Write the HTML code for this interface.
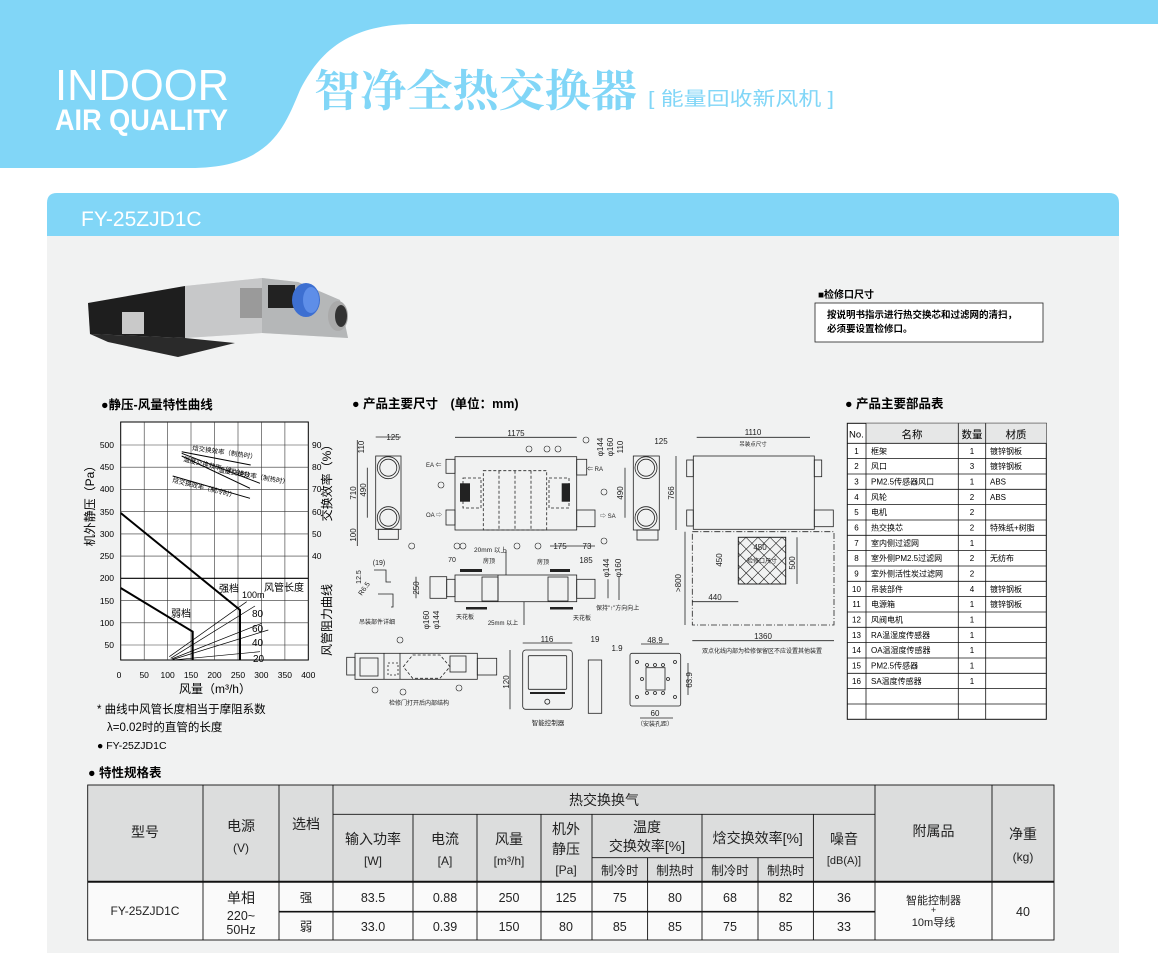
<!DOCTYPE html>
<html><head><meta charset="utf-8"><style>
html,body{margin:0;padding:0;background:#fff;}
svg{display:block;font-family:"Liberation Sans","Noto Sans CJK SC",sans-serif;}
</style></head><body>
<svg width="1158" height="953" viewBox="0 0 1158 953" xmlns="http://www.w3.org/2000/svg">
<rect width="1158" height="953" fill="#fff"/>
<!-- header -->
<path d="M0,0 H1158 V24 H415 C345,24 318,55 300,90 C285,125 272,168 190,168 H0 Z" fill="#81d6f7"/>
<text x="55" y="100" font-size="44" fill="#fff" textLength="174" lengthAdjust="spacingAndGlyphs">INDOOR</text>
<text x="55" y="130" font-size="30" font-weight="bold" fill="#fff" textLength="173" lengthAdjust="spacingAndGlyphs">AIR QUALITY</text>
<text x="314" y="106" font-size="44" font-weight="bold" fill="#81d6f7" font-family="'Noto Serif CJK SC',serif" textLength="323" lengthAdjust="spacingAndGlyphs">智净全热交换器</text>
<text x="648" y="105" font-size="19" fill="#81d6f7" textLength="186" lengthAdjust="spacingAndGlyphs">[ 能量回收新风机 ]</text>
<!-- panel -->
<path d="M47,236 V203 Q47,193 57,193 H1109 Q1119,193 1119,203 V236 Z" fill="#81d6f7"/>
<rect x="47" y="236" width="1072" height="717" fill="#f1f2f2"/>
<text x="81" y="226" font-size="21" fill="#fff">FY-25ZJD1C</text>

<!-- product photo -->
<polygon points="88,303 185,286 262,278 298,282 340,300 348,338 262,333 185,338 178,357 108,342 90,334" fill="#d8d9da"/>
<polygon points="88,303 185,286 185,338 90,334" fill="#1e1e1e"/>
<polygon points="90,334 185,338 235,343 178,357 108,342" fill="#2a2a2a"/>
<polygon points="185,286 262,278 262,333 185,338" fill="#c7c8c9"/>
<polygon points="262,278 298,282 340,300 348,338 262,333" fill="#b5b7b8"/>
<rect x="122" y="312" width="22" height="22" fill="#c9c9c9"/>
<rect x="240" y="288" width="22" height="30" fill="#9a9a9a"/>
<rect x="268" y="285" width="27" height="23" fill="#222"/>
<ellipse cx="306" cy="300" rx="14" ry="17" fill="#3d6fd1"/>
<ellipse cx="311" cy="300" rx="8" ry="13" fill="#5e8ee8"/>
<ellipse cx="338" cy="316" rx="10" ry="15" fill="#aaa"/>
<ellipse cx="341" cy="316" rx="6" ry="11" fill="#333"/>

<!-- inspection note -->
<text x="818" y="298" font-size="10" font-weight="bold">■检修口尺寸</text>
<rect x="815" y="303" width="228" height="39" fill="#fff" stroke="#222" stroke-width="0.8"/>
<text x="827" y="318" font-size="9.5" font-weight="bold">按说明书指示进行热交换芯和过滤网的清扫，</text>
<text x="827" y="332" font-size="9.5" font-weight="bold">必须要设置检修口。</text>

<!-- section heads -->
<text x="101" y="409" font-size="12.5" font-weight="bold">●静压-风量特性曲线</text>
<text x="352" y="408" font-size="12.5" font-weight="bold">● 产品主要尺寸　(单位：mm)</text>
<text x="845" y="408" font-size="12.5" font-weight="bold">● 产品主要部品表</text>
<text x="88" y="777" font-size="12.5" font-weight="bold">● 特性规格表</text>

<!-- chart -->
<g>
<rect x="120.7" y="422" width="187.6" height="238" fill="#fff" stroke="#000" stroke-width="1"/>
<g stroke="#333" stroke-width="0.6">
<line x1="144.2" y1="422" x2="144.2" y2="660"/><line x1="167.6" y1="422" x2="167.6" y2="660"/>
<line x1="191" y1="422" x2="191" y2="660"/><line x1="214.5" y1="422" x2="214.5" y2="660"/>
<line x1="238" y1="422" x2="238" y2="660"/><line x1="261.4" y1="422" x2="261.4" y2="660"/>
<line x1="284.9" y1="422" x2="284.9" y2="660"/>
<line x1="120.7" y1="445" x2="308.3" y2="445"/><line x1="120.7" y1="467.2" x2="308.3" y2="467.2"/>
<line x1="120.7" y1="489.4" x2="308.3" y2="489.4"/><line x1="120.7" y1="511.7" x2="308.3" y2="511.7"/>
<line x1="120.7" y1="533.9" x2="308.3" y2="533.9"/><line x1="120.7" y1="556.1" x2="308.3" y2="556.1"/>
<line x1="120.7" y1="600.6" x2="308.3" y2="600.6"/><line x1="120.7" y1="622.8" x2="308.3" y2="622.8"/>
<line x1="120.7" y1="645" x2="308.3" y2="645"/>
</g>
<line x1="120.7" y1="578.3" x2="308.3" y2="578.3" stroke="#000" stroke-width="1.2"/>
<polyline points="120.7,513 240,610 240,660" fill="none" stroke="#000" stroke-width="2"/>
<polyline points="120.7,588 192.7,631.7 192.7,660" fill="none" stroke="#000" stroke-width="2"/>
<g stroke="#000" stroke-width="1">
<line x1="181.7" y1="451.7" x2="250.7" y2="465"/>
<line x1="181.7" y1="453.3" x2="260" y2="483.3"/>
<line x1="181.7" y1="456" x2="250" y2="488.3"/>
<line x1="172.7" y1="476" x2="250" y2="498.3"/>
</g>
<g stroke="#000" stroke-width="0.7">
<line x1="169.3" y1="656.7" x2="246.7" y2="601.7"/>
<line x1="170.7" y1="658.3" x2="255" y2="606"/>
<line x1="171.7" y1="659" x2="261.7" y2="623.3"/>
<line x1="172.7" y1="659.5" x2="268.3" y2="630"/>
<line x1="175" y1="659.8" x2="260" y2="651.7"/>
</g>
<g font-size="6.5">
<text x="192" y="450" transform="rotate(8 192 450)">焓交换效率（制热时）</text>
<text x="218" y="472" transform="rotate(10 218 472)">温度交换效率（制热时）</text>
<text x="183" y="461" transform="rotate(14 183 461)">温度交换效率（制冷时）</text>
<text x="172" y="482" transform="rotate(14 172 482)">焓交换效率（制冷时）</text>
</g>
<g font-size="10">
<text x="219" y="592">强档</text><text x="264" y="591">风管长度</text><text x="171" y="617">弱档</text>
<text x="242" y="598" font-size="9">100m</text><text x="252" y="617">80</text><text x="252" y="632">60</text>
<text x="252" y="646">40</text><text x="253" y="662">20</text>
</g>
<g font-size="8.5" text-anchor="end">
<text x="114" y="448">500</text><text x="114" y="470">450</text><text x="114" y="492">400</text>
<text x="114" y="515">350</text><text x="114" y="537">300</text><text x="114" y="559">250</text>
<text x="114" y="581">200</text><text x="114" y="604">150</text><text x="114" y="626">100</text>
<text x="114" y="648">50</text>
</g>
<g font-size="8.5">
<text x="312" y="448">90</text><text x="312" y="470">80</text><text x="312" y="492">70</text>
<text x="312" y="515">60</text><text x="312" y="537">50</text><text x="312" y="559">40</text>
</g>
<g font-size="8.5" text-anchor="middle">
<text x="119" y="678">0</text><text x="144.2" y="678">50</text><text x="167.6" y="678">100</text>
<text x="191" y="678">150</text><text x="214.5" y="678">200</text><text x="238" y="678">250</text>
<text x="261.4" y="678">300</text><text x="284.9" y="678">350</text><text x="308.3" y="678">400</text>
</g>
<text x="0" y="0" font-size="12" text-anchor="middle" transform="translate(94 503) rotate(-90)">机外静压（Pa）</text>
<text x="0" y="0" font-size="12" text-anchor="middle" transform="translate(331 480) rotate(-90)">交换效率（%）</text>
<text x="0" y="0" font-size="12" text-anchor="middle" transform="translate(331 620) rotate(-90)">风管阻力曲线</text>
<text x="215" y="693" font-size="12" text-anchor="middle">风量（m³/h）</text>
<text x="97" y="713" font-size="11.5">* 曲线中风管长度相当于摩阻系数</text>
<text x="107" y="731" font-size="11.5">λ=0.02时的直管的长度</text>
<text x="97" y="749" font-size="10.5">● FY-25ZJD1C</text>
</g>

<!-- drawings -->
<g fill="none" stroke="#222" stroke-width="0.8">
<!-- left side view -->
<rect x="375.7" y="456" width="25.3" height="73.3"/>
<circle cx="388.3" cy="467.7" r="11"/><circle cx="388.3" cy="467.7" r="8.5"/>
<circle cx="388.3" cy="517.7" r="11"/><circle cx="388.3" cy="517.7" r="8.5"/>
<rect x="378.3" y="529.3" width="20" height="10"/>
<line x1="357.3" y1="440" x2="357.3" y2="546"/><line x1="367.3" y1="467.7" x2="367.3" y2="517.7"/>
<line x1="375.7" y1="437" x2="401" y2="437"/>
<!-- main top view -->
<rect x="455" y="456.7" width="121.7" height="73.3"/>
<rect x="446" y="459.3" width="9" height="14"/><rect x="446" y="510" width="9" height="15"/>
<rect x="576.7" y="459.3" width="10" height="15.7"/><rect x="576.7" y="510" width="18.3" height="16.7"/>
<line x1="455" y1="437.3" x2="576.7" y2="437.3"/>
<rect x="483.3" y="470.7" width="63.4" height="59.3" stroke-dasharray="3,2"/>
<line x1="499" y1="470.7" x2="499" y2="530" stroke-dasharray="3,2"/>
<line x1="515" y1="470.7" x2="515" y2="530" stroke-dasharray="3,2"/>
<line x1="531" y1="470.7" x2="531" y2="530" stroke-dasharray="3,2"/>
<rect x="463" y="478" width="18" height="30" stroke-dasharray="3,2"/>
<rect x="549" y="478" width="20" height="30" stroke-dasharray="3,2"/>
<line x1="550" y1="546" x2="595" y2="546"/>
<!-- right side view -->
<rect x="633.3" y="456" width="26" height="74"/>
<circle cx="646" cy="467.7" r="11"/><circle cx="646" cy="467.7" r="8.5"/>
<circle cx="646" cy="517.7" r="11"/><circle cx="646" cy="517.7" r="8.5"/>
<rect x="637" y="530" width="21" height="10"/>
<line x1="625" y1="467.7" x2="625" y2="517.7"/>
<!-- big top view -->
<rect x="693.3" y="456" width="121" height="73.3"/>
<rect x="686.7" y="460" width="6.6" height="16.7"/><rect x="686.7" y="510" width="6.6" height="16"/>
<rect x="814.3" y="460" width="7.4" height="16.7"/><rect x="814.3" y="510" width="19" height="16.7"/>
<line x1="696.7" y1="437.3" x2="810" y2="437.3"/>
<line x1="676" y1="456" x2="676" y2="530"/>
<rect x="692.3" y="531.7" width="141.7" height="93.3" stroke-dasharray="6,2,1,2"/>
<rect x="738.3" y="537.3" width="47.4" height="46.7" stroke-width="1"/>
<path d="M738.3,545 L746,537.3 M738.3,557 L758,537.3 M738.3,569 L770,537.3 M738.3,581 L782,537.3 M747,584 L785.7,545 M759,584 L785.7,557 M771,584 L785.7,569 M746,537.3 L785.7,577 M758,537.3 L785.7,565 M770,537.3 L785.7,553 M782,537.3 L785.7,541 M738.3,541 L781,584 M738.3,553 L769,584 M738.3,565 L757,584 M738.3,577 L745,584" stroke-width="0.6"/>
<line x1="692.3" y1="601.7" x2="738.3" y2="601.7"/>
<line x1="692.3" y1="640.7" x2="834" y2="640.7"/>
<line x1="685" y1="531.7" x2="685" y2="625"/>
<line x1="797" y1="537.3" x2="797" y2="584"/>
<!-- hanger detail -->
<polyline points="374,570 386,570 386,582 391,582"/>
<polyline points="378,594 393,594 393,607 391,607"/>
<!-- middle side view -->
<rect x="455" y="575" width="121.7" height="26.7"/>
<rect x="430" y="576.7" width="16.7" height="21.6"/><rect x="446.7" y="579.3" width="8.3" height="17.4"/>
<rect x="576.7" y="579.3" width="18.3" height="19"/>
<rect x="482" y="577" width="16" height="24"/><rect x="548" y="577" width="20" height="24"/>
<line x1="498" y1="575" x2="498" y2="601.7"/><line x1="524" y1="601.7" x2="524" y2="625"/>
<line x1="506" y1="550" x2="506" y2="575"/>
<line x1="416" y1="576.7" x2="416" y2="598.3"/>
<line x1="608" y1="579.3" x2="608" y2="598.3"/><line x1="619" y1="577" x2="619" y2="600"/>
<!-- inner structure -->
<rect x="355" y="653.3" width="122.3" height="26"/>
<rect x="346.7" y="657.3" width="8.3" height="17.7"/><rect x="477.3" y="658.3" width="19.4" height="16.7"/>
<polygon points="403.3,666.7 412.7,655 440,655 450,666.7 440,678.3 412.7,678.3" stroke-dasharray="3,2"/>
<line x1="384" y1="653.3" x2="384" y2="679.3"/><line x1="400" y1="653.3" x2="400" y2="679.3"/>
<rect x="388" y="663" width="10" height="12" stroke-dasharray="2,2"/>
<rect x="450" y="656" width="16" height="16"/><rect x="360" y="658" width="18" height="18"/>
<!-- controller -->
<rect x="522.7" y="650" width="49.6" height="59.3" rx="3"/>
<rect x="528.3" y="655.7" width="38.4" height="33.6" rx="1"/>
<line x1="530" y1="693" x2="565" y2="693" stroke-width="2"/>
<circle cx="547.3" cy="701.7" r="2.5"/>
<rect x="588.3" y="660" width="13.4" height="53.3"/>
<line x1="522.7" y1="643" x2="572.3" y2="643"/><line x1="510" y1="650" x2="510" y2="709.3"/>
<!-- mount plate -->
<rect x="630" y="653.3" width="50.7" height="52.7" rx="2"/>
<rect x="646" y="667.7" width="19" height="22.3"/>
<circle cx="637" cy="662" r="1.5"/><circle cx="675" cy="662" r="1.5"/><circle cx="637" cy="697" r="1.5"/><circle cx="675" cy="697" r="1.5"/>
<circle cx="647" cy="665" r="1.5"/><circle cx="655" cy="665" r="1.5"/><circle cx="663" cy="665" r="1.5"/>
<circle cx="647" cy="693" r="1.5"/><circle cx="655" cy="693" r="1.5"/><circle cx="663" cy="693" r="1.5"/>
<circle cx="642" cy="679" r="1.5"/><circle cx="668" cy="679" r="1.5"/>
<line x1="641" y1="644" x2="669" y2="644"/><line x1="640" y1="718" x2="673" y2="718"/>
<line x1="688" y1="663" x2="688" y2="695"/>
</g>
<g fill="#222">
<rect x="460" y="483.3" width="10" height="18.4"/><rect x="561.7" y="483.3" width="8.3" height="18.4"/>
<rect x="460" y="569" width="22" height="3"/><rect x="550" y="569" width="20" height="3"/>
<rect x="466" y="607" width="21" height="2.5"/><rect x="550" y="607" width="23" height="2.5"/>
</g>
<g font-size="8" fill="#222">
<text x="393" y="440" text-anchor="middle">125</text>
<text x="516" y="436" text-anchor="middle">1175</text>
<text x="661" y="444" text-anchor="middle">125</text>
<text x="753" y="435" text-anchor="middle">1110</text>
<text x="753" y="446" text-anchor="middle" font-size="5.5">吊装点尺寸</text>
<text x="426" y="467" font-size="6">EA ⇐</text><text x="426" y="517" font-size="6">OA ⇨</text>
<text x="587" y="471" font-size="6">⇐ RA</text><text x="600" y="518" font-size="6">⇨ SA</text>
<text x="560" y="549" text-anchor="middle">175</text><text x="587" y="549" text-anchor="middle">73</text>
<text x="474" y="552" font-size="6.5">20mm 以上</text>
<text x="760" y="550" text-anchor="middle">450</text>
<text x="762" y="563" text-anchor="middle" font-size="6">检修口尺寸</text>
<text x="715" y="600" text-anchor="middle">440</text>
<text x="763" y="639" text-anchor="middle">1360</text>
<text x="762" y="653" text-anchor="middle" font-size="6">双点化线内部为检修保留区不应设置其他装置</text>
<text x="379" y="565" text-anchor="middle" font-size="7">(19)</text>
<text x="377" y="624" text-anchor="middle" font-size="6">吊装部件详细</text>
<text x="452" y="562" text-anchor="middle" font-size="7">70</text>
<text x="586" y="563" text-anchor="middle">185</text>
<text x="489" y="563" text-anchor="middle" font-size="6">房顶</text><text x="543" y="564" text-anchor="middle" font-size="6">房顶</text>
<text x="465" y="619" text-anchor="middle" font-size="6">天花板</text><text x="582" y="620" text-anchor="middle" font-size="6">天花板</text>
<text x="503" y="625" text-anchor="middle" font-size="6">25mm 以上</text>
<text x="596" y="610" font-size="6">保持"↑"方向向上</text>
<text x="419" y="705" text-anchor="middle" font-size="6">检修门打开后内部结构</text>
<text x="547" y="642" text-anchor="middle">116</text>
<text x="595" y="642" text-anchor="middle">19</text><text x="617" y="651" text-anchor="middle">1.9</text>
<text x="548" y="725" text-anchor="middle" font-size="6.5">智能控制器</text>
<text x="655" y="643" text-anchor="middle">48.9</text>
<text x="655" y="716" text-anchor="middle">60</text>
<text x="655" y="726" text-anchor="middle" font-size="6">（安装孔距）</text>
<g text-anchor="middle">
<text transform="translate(364 447) rotate(-90)">110</text>
<text transform="translate(356 493) rotate(-90)">710</text>
<text transform="translate(366 490) rotate(-90)">490</text>
<text transform="translate(356 535) rotate(-90)">100</text>
<text transform="translate(603 447) rotate(-90)">φ144</text>
<text transform="translate(613 447) rotate(-90)">φ160</text>
<text transform="translate(623 447) rotate(-90)">110</text>
<text transform="translate(623 493) rotate(-90)">490</text>
<text transform="translate(674 493) rotate(-90)">766</text>
<text transform="translate(722 560) rotate(-90)">450</text>
<text transform="translate(795 563) rotate(-90)">500</text>
<text transform="translate(681 583) rotate(-90)">&gt;800</text>
<text transform="translate(419 588) rotate(-90)">250</text>
<text transform="translate(609 568) rotate(-90)">φ144</text>
<text transform="translate(621 568) rotate(-90)">φ160</text>
<text transform="translate(429 620) rotate(-90)">φ160</text>
<text transform="translate(439 620) rotate(-90)">φ144</text>
<text transform="translate(509 682) rotate(-90)">120</text>
<text transform="translate(692 680) rotate(-90)">63.9</text>
<text transform="translate(361 577) rotate(-90)" font-size="7">12.5</text>
<text transform="translate(366 590) rotate(-55)" font-size="7">R6.5</text>
</g>
</g>
<g fill="none" stroke="#222" stroke-width="0.6">
<circle cx="411.7" cy="546" r="3"/><circle cx="586" cy="440" r="3"/><circle cx="604" cy="492" r="3"/>
<circle cx="441" cy="485" r="3"/><circle cx="457" cy="546" r="3"/><circle cx="463" cy="546" r="3"/>
<circle cx="517" cy="546" r="3"/><circle cx="538" cy="546" r="3"/><circle cx="604" cy="541" r="3"/>
<circle cx="529" cy="449" r="3"/><circle cx="547" cy="449" r="3"/><circle cx="558" cy="449" r="3"/>
<circle cx="400" cy="640" r="3"/><circle cx="375" cy="690" r="3"/><circle cx="403" cy="692" r="3"/><circle cx="459" cy="688" r="3"/>
</g>

<!-- parts table -->
<g>
<rect x="847.3" y="423.3" width="199" height="296" fill="#fff" stroke="#111" stroke-width="1"/>
<rect x="866" y="423.3" width="92.3" height="20" fill="#e6e7e7"/>
<rect x="958.3" y="423.3" width="27.4" height="20" fill="#e6e7e7"/>
<rect x="985.7" y="423.3" width="60.6" height="20" fill="#e6e7e7"/>
<g stroke="#111" stroke-width="0.8">
<line x1="866" y1="423.3" x2="866" y2="719.3"/><line x1="958.3" y1="423.3" x2="958.3" y2="719.3"/>
<line x1="985.7" y1="423.3" x2="985.7" y2="719.3"/>
<line x1="847.3" y1="443.3" x2="1046.3" y2="443.3"/>
<line x1="847.3" y1="458.6" x2="1046.3" y2="458.6"/><line x1="847.3" y1="474" x2="1046.3" y2="474"/>
<line x1="847.3" y1="489.3" x2="1046.3" y2="489.3"/><line x1="847.3" y1="504.6" x2="1046.3" y2="504.6"/>
<line x1="847.3" y1="520" x2="1046.3" y2="520"/><line x1="847.3" y1="535.3" x2="1046.3" y2="535.3"/>
<line x1="847.3" y1="550.6" x2="1046.3" y2="550.6"/><line x1="847.3" y1="566" x2="1046.3" y2="566"/>
<line x1="847.3" y1="581.3" x2="1046.3" y2="581.3"/><line x1="847.3" y1="596.6" x2="1046.3" y2="596.6"/>
<line x1="847.3" y1="612" x2="1046.3" y2="612"/><line x1="847.3" y1="627.3" x2="1046.3" y2="627.3"/>
<line x1="847.3" y1="642.6" x2="1046.3" y2="642.6"/><line x1="847.3" y1="658" x2="1046.3" y2="658"/>
<line x1="847.3" y1="673.3" x2="1046.3" y2="673.3"/><line x1="847.3" y1="688.6" x2="1046.3" y2="688.6"/>
<line x1="847.3" y1="704" x2="1046.3" y2="704"/>
</g>
<g font-size="10.5"><text x="849" y="437.5" font-size="9.5">No.</text>
<text x="912" y="438" text-anchor="middle">名称</text><text x="972" y="438" text-anchor="middle">数量</text><text x="1016" y="438" text-anchor="middle">材质</text></g>
<g font-size="8" text-anchor="middle">
<text x="856.5" y="454">1</text><text x="856.5" y="469">2</text><text x="856.5" y="484.5">3</text><text x="856.5" y="500">4</text>
<text x="856.5" y="515">5</text><text x="856.5" y="530.5">6</text><text x="856.5" y="546">7</text><text x="856.5" y="561">8</text>
<text x="856.5" y="576.5">9</text><text x="856.5" y="592">10</text><text x="856.5" y="607">11</text><text x="856.5" y="622.5">12</text>
<text x="856.5" y="638">13</text><text x="856.5" y="653">14</text><text x="856.5" y="668.5">15</text><text x="856.5" y="684">16</text>
<text x="972" y="454">1</text><text x="972" y="469">3</text><text x="972" y="484.5">1</text><text x="972" y="500">2</text>
<text x="972" y="515">2</text><text x="972" y="530.5">2</text><text x="972" y="546">1</text><text x="972" y="561">2</text>
<text x="972" y="576.5">2</text><text x="972" y="592">4</text><text x="972" y="607">1</text><text x="972" y="622.5">1</text>
<text x="972" y="638">1</text><text x="972" y="653">1</text><text x="972" y="668.5">1</text><text x="972" y="684">1</text>
</g>
<g font-size="8">
<text x="871" y="454">框架</text><text x="871" y="469">风口</text><text x="871" y="484.5">PM2.5传感器风口</text><text x="871" y="500">风轮</text>
<text x="871" y="515">电机</text><text x="871" y="530.5">热交换芯</text><text x="871" y="546">室内侧过滤网</text><text x="871" y="561">室外侧PM2.5过滤网</text>
<text x="871" y="576.5">室外侧活性炭过滤网</text><text x="871" y="592">吊装部件</text><text x="871" y="607">电源箱</text><text x="871" y="622.5">风阀电机</text>
<text x="871" y="638">RA温湿度传感器</text><text x="871" y="653">OA温湿度传感器</text><text x="871" y="668.5">PM2.5传感器</text><text x="871" y="684">SA温度传感器</text>
<text x="990" y="454">镀锌钢板</text><text x="990" y="469">镀锌钢板</text><text x="990" y="484.5">ABS</text><text x="990" y="500">ABS</text>
<text x="990" y="530.5">特殊纸+树脂</text><text x="990" y="561">无纺布</text><text x="990" y="592">镀锌钢板</text><text x="990" y="607">镀锌钢板</text>
</g>
</g>

<!-- spec table -->
<g>
<rect x="87.7" y="785" width="966.3" height="96.7" fill="#dcdddd"/>
<rect x="87.7" y="881.7" width="966.3" height="58.3" fill="#fafafa"/>
<g stroke="#111" stroke-width="0.9">
<rect x="87.7" y="785" width="966.3" height="155" fill="none"/>
<line x1="203" y1="785" x2="203" y2="940"/><line x1="279" y1="785" x2="279" y2="940"/>
<line x1="333" y1="785" x2="333" y2="940"/><line x1="875" y1="785" x2="875" y2="940"/>
<line x1="992" y1="785" x2="992" y2="940"/>
<line x1="413" y1="814.3" x2="413" y2="940"/><line x1="477" y1="814.3" x2="477" y2="940"/>
<line x1="541" y1="814.3" x2="541" y2="940"/><line x1="592" y1="814.3" x2="592" y2="940"/>
<line x1="702" y1="814.3" x2="702" y2="940"/><line x1="813.4" y1="814.3" x2="813.4" y2="940"/>
<line x1="647.6" y1="857.7" x2="647.6" y2="940"/><line x1="758" y1="857.7" x2="758" y2="940"/>
<line x1="333" y1="814.3" x2="875" y2="814.3"/><line x1="592" y1="857.7" x2="813.4" y2="857.7"/>
</g>
<line x1="87.7" y1="881.7" x2="1054" y2="881.7" stroke="#111" stroke-width="2"/>
<line x1="279" y1="911.7" x2="875" y2="911.7" stroke="#111" stroke-width="1.6"/>
<g font-size="14" text-anchor="middle" fill="#222">
<text x="145" y="837">型号</text><text x="241" y="831">电源</text><text x="241" y="852" font-size="12">(V)</text>
<text x="306" y="829">选档</text><text x="604" y="805">热交换换气</text>
<text x="373" y="844">输入功率</text><text x="373" y="865" font-size="12">[W]</text>
<text x="445" y="844">电流</text><text x="445" y="865" font-size="12">[A]</text>
<text x="509" y="844">风量</text><text x="509" y="865" font-size="12">[m³/h]</text>
<text x="566" y="834">机外</text><text x="566" y="854">静压</text><text x="566" y="874" font-size="12">[Pa]</text>
<text x="647" y="832">温度</text><text x="647" y="851">交换效率[%]</text>
<text x="757.7" y="843">焓交换效率[%]</text>
<text x="844" y="844">噪音</text><text x="844" y="864" font-size="11">[dB(A)]</text>
<text x="933.5" y="836">附属品</text><text x="1023" y="839">净重</text><text x="1023" y="861" font-size="12">(kg)</text>
</g>
<g font-size="12.5" text-anchor="middle" fill="#222">
<text x="619.8" y="875">制冷时</text><text x="675" y="875">制热时</text><text x="730" y="875">制冷时</text><text x="785.7" y="875">制热时</text>
<text x="145" y="915" font-size="12">FY-25ZJD1C</text>
<text x="241" y="903" font-size="14">单相</text><text x="241" y="920">220~</text><text x="241" y="934">50Hz</text>
<text x="306" y="902">强</text><text x="306" y="931">弱</text>
<text x="373" y="902">83.5</text><text x="445" y="902">0.88</text><text x="509" y="902">250</text><text x="566" y="902">125</text>
<text x="619.8" y="902">75</text><text x="675" y="902">80</text><text x="730" y="902">68</text><text x="785.7" y="902">82</text><text x="844" y="902">36</text>
<text x="373" y="931">33.0</text><text x="445" y="931">0.39</text><text x="509" y="931">150</text><text x="566" y="931">80</text>
<text x="619.8" y="931">85</text><text x="675" y="931">85</text><text x="730" y="931">75</text><text x="785.7" y="931">85</text><text x="844" y="931">33</text>
<text x="933.5" y="904" font-size="11">智能控制器</text><text x="933.5" y="913" font-size="9">+</text><text x="933.5" y="926" font-size="11">10m导线</text>
<text x="1023" y="916">40</text>
</g>
</g>
</svg>
</body></html>
